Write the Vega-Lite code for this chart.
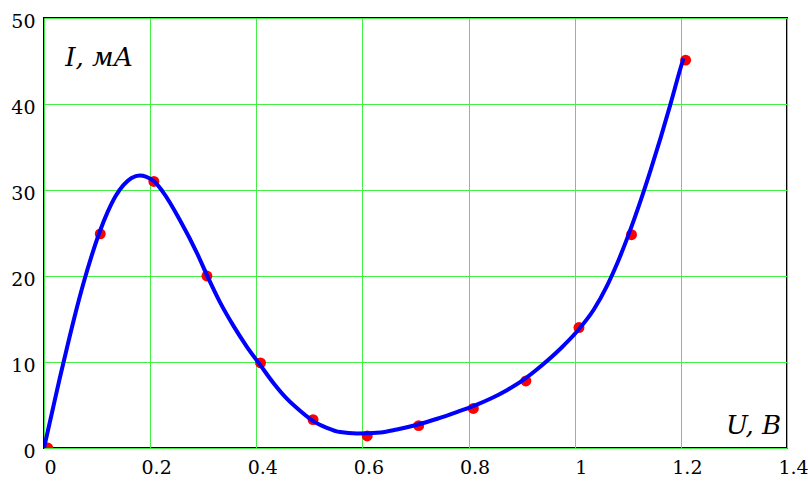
{
  "$schema": "https://vega.github.io/schema/vega-lite/v6.json",
  "width": 743,
  "height": 430,
  "autosize": {"type": "none"},
  "padding": {"left": 44, "top": 18, "right": 21, "bottom": 33},
  "background": "white",
  "config": {
    "view": {"stroke": "black", "strokeWidth": 2},
    "axis": {
      "labelFont": "DejaVu Serif",
      "labelFontSize": 19,
      "labelColor": "black",
      "ticks": false,
      "domain": false,
      "grid": true,
      "gridColor": "#44ee44",
      "gridWidth": 1,
      "gridOpacity": 1,
      "title": null
    }
  },
  "datasets": {
    "curve": [
      {"U": 0.0, "I": 0.0},
      {"U": 0.015, "I": 4.1},
      {"U": 0.03, "I": 8.2},
      {"U": 0.045, "I": 12.1},
      {"U": 0.06, "I": 15.85},
      {"U": 0.075, "I": 19.3},
      {"U": 0.09, "I": 22.4},
      {"U": 0.105, "I": 25.15},
      {"U": 0.12, "I": 27.45},
      {"U": 0.135, "I": 29.3},
      {"U": 0.15, "I": 30.6},
      {"U": 0.165, "I": 31.4},
      {"U": 0.18, "I": 31.7},
      {"U": 0.206, "I": 31.1},
      {"U": 0.225, "I": 29.7},
      {"U": 0.257, "I": 26.4},
      {"U": 0.288, "I": 22.7},
      {"U": 0.307, "I": 20.1},
      {"U": 0.332, "I": 16.9},
      {"U": 0.357, "I": 14.2},
      {"U": 0.382, "I": 11.8},
      {"U": 0.408, "I": 9.6},
      {"U": 0.433, "I": 7.5},
      {"U": 0.458, "I": 5.7},
      {"U": 0.483, "I": 4.3},
      {"U": 0.508, "I": 3.1},
      {"U": 0.533, "I": 2.35},
      {"U": 0.558, "I": 1.85},
      {"U": 0.590, "I": 1.68},
      {"U": 0.634, "I": 1.8},
      {"U": 0.665, "I": 2.15},
      {"U": 0.703, "I": 2.7},
      {"U": 0.741, "I": 3.4},
      {"U": 0.779, "I": 4.2},
      {"U": 0.810, "I": 4.9},
      {"U": 0.842, "I": 5.75},
      {"U": 0.873, "I": 6.75},
      {"U": 0.904, "I": 7.95},
      {"U": 0.936, "I": 9.5},
      {"U": 0.974, "I": 11.6},
      {"U": 1.005, "I": 13.6},
      {"U": 1.036, "I": 16.1},
      {"U": 1.062, "I": 19.0},
      {"U": 1.081, "I": 21.6},
      {"U": 1.099, "I": 24.4},
      {"U": 1.125, "I": 28.9},
      {"U": 1.143, "I": 32.3},
      {"U": 1.162, "I": 36.1},
      {"U": 1.181, "I": 40.1},
      {"U": 1.200, "I": 44.3},
      {"U": 1.205, "I": 45.3}
    ],
    "points": [
      {"U": 0.007, "I": 0.0},
      {"U": 0.106, "I": 24.9},
      {"U": 0.207, "I": 31.0},
      {"U": 0.307, "I": 20.0},
      {"U": 0.408, "I": 9.9},
      {"U": 0.507, "I": 3.3},
      {"U": 0.609, "I": 1.4},
      {"U": 0.706, "I": 2.6},
      {"U": 0.809, "I": 4.6},
      {"U": 0.908, "I": 7.8},
      {"U": 1.008, "I": 14.0},
      {"U": 1.107, "I": 24.8},
      {"U": 1.209, "I": 45.1}
    ],
    "labels": [
      {"U": 0.04, "I": 44.4, "text": "I, мА", "side": "left"},
      {"U": 1.389, "I": 1.6, "text": "U, В", "side": "right"}
    ]
  },
  "layer": [
    {
      "data": {"name": "points"},
      "mark": {"type": "point", "filled": true, "color": "#ff0000", "opacity": 1, "size": 120, "clip": true},
      "encoding": {
        "x": {
          "field": "U", "type": "quantitative",
          "scale": {"domain": [0, 1.4], "nice": false, "zero": false},
          "axis": {"values": [0, 0.2, 0.4, 0.6, 0.8, 1, 1.2, 1.4], "format": "~g", "labelPadding": 10, "labelOffset": 6, "labelFlush": false, "labelOverlap": false}
        },
        "y": {
          "field": "I", "type": "quantitative",
          "scale": {"domain": [0, 50], "nice": false, "zero": false},
          "axis": {"values": [0, 10, 20, 30, 40, 50], "format": "~g", "labelPadding": 9, "labelOffset": 3, "labelFlush": false, "labelOverlap": false}
        }
      }
    },
    {
      "data": {"name": "curve"},
      "mark": {"type": "line", "color": "#0000ff", "strokeWidth": 4, "interpolate": "monotone", "clip": true},
      "encoding": {
        "x": {"field": "U", "type": "quantitative"},
        "y": {"field": "I", "type": "quantitative"}
      }
    },
    {
      "data": {"name": "labels"},
      "transform": [{"filter": "datum.side == 'left'"}],
      "mark": {"type": "text", "align": "left", "baseline": "alphabetic", "font": "DejaVu Serif", "fontStyle": "italic", "fontSize": 26, "color": "black"},
      "encoding": {
        "x": {"field": "U", "type": "quantitative"},
        "y": {"field": "I", "type": "quantitative"},
        "text": {"field": "text"}
      }
    },
    {
      "data": {"name": "labels"},
      "transform": [{"filter": "datum.side == 'right'"}],
      "mark": {"type": "text", "align": "right", "baseline": "alphabetic", "font": "DejaVu Serif", "fontStyle": "italic", "fontSize": 26, "color": "black"},
      "encoding": {
        "x": {"field": "U", "type": "quantitative"},
        "y": {"field": "I", "type": "quantitative"},
        "text": {"field": "text"}
      }
    }
  ]
}
